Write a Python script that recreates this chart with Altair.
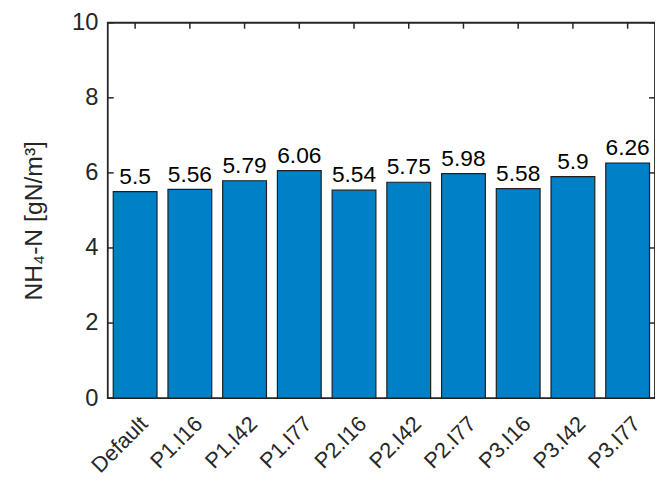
import altair as alt
import pandas as pd

categories = ["Default", "P1.I16", "P1.I42", "P1.I77", "P2.I16",
              "P2.I42", "P2.I77", "P3.I16", "P3.I42", "P3.I77"]
values = [5.5, 5.56, 5.79, 6.06, 5.54, 5.75, 5.98, 5.58, 5.9, 6.26]
y_ticks = [0, 2, 4, 6, 8, 10]

df = pd.DataFrame({"cat": categories, "val": values,
                   "label": [f"{v:g}" for v in values]})
tick_df = pd.DataFrame({"val": y_ticks})

W, H = 554, 380
AX = "#262626"
FONT = "Liberation Sans"

x_enc = alt.X("cat:N", sort=categories,
              scale=alt.Scale(paddingInner=0.2, paddingOuter=0.1),
              axis=alt.Axis(title=None, labelAngle=-45, labelAlign="right",
                            labelBaseline="top", labelPadding=15,
                            labelOffset=2,
                            labelFontSize=22, labelColor=AX, ticks=False,
                            domain=False, grid=False))
y_enc = alt.Y("val:Q", scale=alt.Scale(domain=[0, 10], nice=False),
              axis=alt.Axis(values=y_ticks, title="NH₄-N [gN/m³]",
                            labelFontSize=24, labelColor=AX, labelPadding=10,
                            titleFontSize=25, titleFontWeight="normal",
                            titleColor=AX, titleX=-75, titleY=200,
                            titleAlign="center", titleBaseline="middle",
                            ticks=False, domain=False, grid=False))

bars = alt.Chart(df).mark_bar(color="#0080C7", stroke="#1f1f1f",
                              strokeWidth=1.2).encode(x=x_enc, y=y_enc)
text = alt.Chart(df).mark_text(dy=-8, baseline="alphabetic", fontSize=23,
                               color="#000000").encode(
    x=x_enc, y=y_enc, text="label:N")
top_ticks = alt.Chart(df).mark_rule(color=AX, strokeWidth=1.5).encode(
    x=x_enc, y=alt.value(0), y2=alt.value(6))
left_ticks = alt.Chart(tick_df).mark_rule(color=AX, strokeWidth=1.5).encode(
    y=y_enc, x=alt.value(0), x2=alt.value(6))
right_ticks = alt.Chart(tick_df).mark_rule(color=AX, strokeWidth=1.5).encode(
    y=y_enc, x=alt.value(W - 6), x2=alt.value(W))

chart = alt.layer(bars, text, top_ticks, left_ticks, right_ticks).properties(
    width=W, height=H,
    autosize=alt.AutoSizeParams(type="none"),
    padding={"left": 101, "top": 12, "right": 0, "bottom": 83},
).configure(font=FONT).configure_view(stroke=AX, strokeWidth=1.8)

chart.save("out.html", embed_options={"renderer": "svg", "actions": False})
